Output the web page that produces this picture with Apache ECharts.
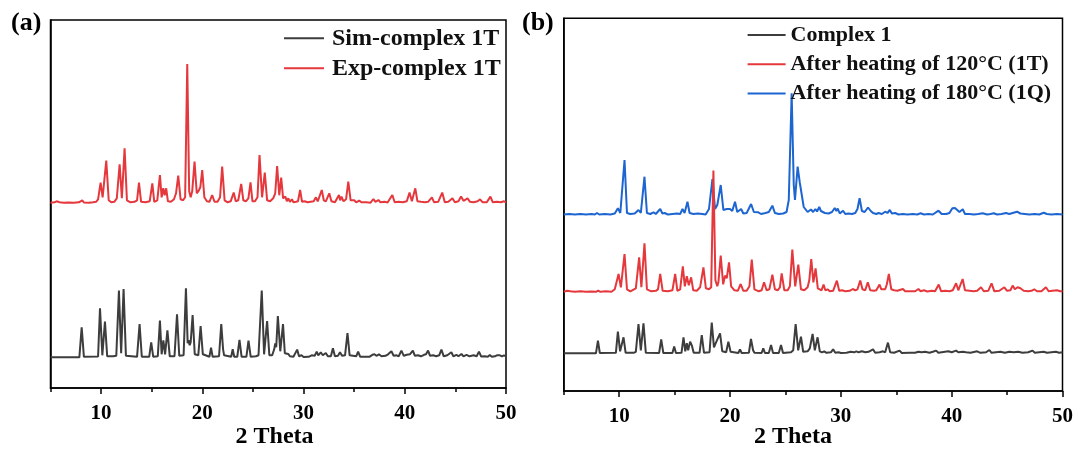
<!DOCTYPE html>
<html>
<head>
<meta charset="utf-8">
<script src="https://cdn.jsdelivr.net/npm/echarts@6/dist/echarts.min.js"></script>
<style>
  html, body { margin: 0; padding: 0; background: #ffffff; }
  #chart { width: 1076px; height: 450px; }
</style>
</head>
<body>
<div id="chart"></div>
<script>
// 2θ axis: labelled major ticks and unlabelled minor ticks (degrees)
const majorTicks = [10, 20, 30, 40, 50];
const minorTicks = [5, 15, 25, 35, 45];
const thetaRange = [5, 50];

// series names
const namesA = ['Sim-complex 1T', 'Exp-complex 1T'];
const namesB = ['Complex 1', 'After heating of 120°C (1T)', 'After heating of 180°C (1Q)'];

// PXRD traces, [2θ (deg), intensity (a.u.)]
const simComplex1T = [
  [5,0],[7.85,0],[8.08,30],[8.3,0.5],[9.7,0.8],[9.89,49],[10.12,2],[10.38,35.7],[10.6,1],
  [11.2,1],[11.35,2.5],[11.5,1.5],[11.76,66.7],[11.98,4],[12.22,68.3],[12.45,1.5],
  [13.55,0.5],[13.8,33.3],[14.02,0.5],[14.75,0.5],[14.95,15],[15.15,0.5],
  [15.6,1],[15.81,36.7],[15.98,3],[16.15,17],[16.32,3],[16.55,27],[16.78,1],
  [17.25,1],[17.5,43],[17.72,1.5],[18.15,2],[18.38,69],[18.55,14],[18.65,17],[18.75,12],[18.85,15],
  [19.04,42.3],[19.25,3],[19.6,2],[19.83,31.3],[20.05,3],[20.2,1],[20.7,0.5],[20.86,9.7],[21.02,0.5],
  [21.65,1],[21.87,33.3],[22.05,8],[22.15,2],[22.85,0.5],[23.0,8],[23.15,0.5],
  [23.45,0.5],[23.67,17.3],[23.88,0.5],[24.35,0.5],[24.56,16.7],[24.78,0.5],
  [25.3,1],[25.55,2],[25.68,4],[25.87,66.7],[26.1,3],[26.4,36.3],[26.62,2],
  [26.9,2],[27.1,8],[27.2,14],[27.3,10],[27.46,41.3],[27.7,6],[27.97,33.3],[28.15,4],[28.3,2],[28.5,3.3],[28.65,1],
  [29.0,0.5],[29.15,1.5],[29.37,7.7],[29.55,1],[29.8,2],[30.0,0.3],
  [30.5,0.5],[30.8,2],[30.95,4],[31.1,1.5],[31.3,5.7],[31.45,2],[31.7,5],[31.9,2],[32.2,4.3],[32.4,1],
  [32.7,1],[32.9,9],[33.1,1],[33.4,1.5],[33.6,5],[33.8,1.5],[34.1,2],[34.34,24.3],[34.55,2],
  [35.2,1],[35.39,5.7],[35.6,0.5],[36.5,0.5],[36.8,2.5],[37.0,3],[37.2,1.5],[37.45,3],[37.7,1],
  [38.1,1.5],[38.35,3],[38.68,6],[38.9,1.5],[39.2,2],[39.4,1],[39.67,6.7],[39.9,1.5],[40.2,2.5],[40.5,3],
  [40.8,6.7],[41.0,1.5],[41.3,2],[41.6,1],[41.9,2.5],[42.1,3],[42.3,6.7],[42.5,1.5],[42.8,2],[43.1,1],
  [43.4,2],[43.62,7.7],[43.85,1],[44.2,2],[44.6,5],[44.8,1],[45.1,2.5],[45.3,1],[45.6,3.3],[45.8,1],
  [46.1,2.5],[46.4,1],[46.8,2],[47.1,1],[47.33,5.7],[47.55,0.8],[47.9,1],[48.2,0.5],[48.4,2.3],[48.6,0.5],
  [48.9,1],[49.1,2],[49.4,2],[49.6,1],[49.8,2],[50,1]
];

const expComplex1T = [
  [5,0.5],[5.4,1],[5.6,2],[5.9,1],[6.3,0.5],[6.8,0.8],[7.3,0.5],[7.8,1],[8.14,3],[8.3,0.8],[8.8,0.5],
  [9.2,1],[9.5,1.5],[9.7,4],[9.95,20.7],[10.15,6],[10.3,8],[10.51,42.7],[10.75,3],[11.0,1],[11.3,1.5],
  [11.55,5],[11.83,39],[12.05,5],[12.32,55],[12.55,3],[12.9,1],[13.3,1.5],[13.55,3],[13.74,20.7],[13.95,1.5],
  [14.4,1],[14.8,2],[15.06,20],[15.25,1.5],[15.55,3],[15.81,28.3],[15.98,6],[16.14,15],[16.28,8],[16.43,15],
  [16.6,2],[16.9,1.5],[17.2,4],[17.4,10],[17.62,27.7],[17.85,4],[18.1,3],[18.3,6],[18.51,139.3],[18.7,12],
  [18.85,6],[19.0,12],[19.23,41.7],[19.45,10],[19.66,13],[19.8,16],[19.99,33.3],[20.2,6],[20.45,2],[20.7,1.5],
  [20.97,8.3],[21.2,1.5],[21.5,1.5],[21.75,6],[21.96,36.7],[22.2,3],[22.5,1],[22.8,2],[23.1,10.7],[23.3,2],
  [23.55,3],[23.84,19.3],[24.05,3],[24.3,2],[24.55,5],[24.76,21],[24.95,2],[25.2,2],[25.45,6],[25.65,48.3],
  [25.9,6],[26.17,30.7],[26.4,3],[26.7,2],[27.0,5],[27.2,10],[27.39,37.3],[27.6,8],[27.79,25.7],[27.98,5],
  [28.2,6.7],[28.35,2],[28.5,5],[28.65,1.5],[28.85,4],[29.0,1],[29.25,1.5],[29.45,2],[29.66,13.3],[29.85,1.5],
  [30.1,2],[30.4,1],[30.7,1.5],[31.0,2],[31.22,6],[31.4,2],[31.8,13.3],[32.0,3],[32.2,2],[32.54,10],[32.75,2],
  [33.1,1],[33.5,8.3],[33.62,3],[33.75,6.7],[33.95,2],[34.2,4],[34.42,21.7],[34.65,3],[35.0,3],[35.2,1],
  [35.5,2.7],[35.7,1],[36.2,1],[36.6,0.5],[36.9,4.3],[37.1,1.5],[37.4,3.3],[37.6,1],[38.0,1.5],[38.3,0.8],
  [38.77,8.3],[39.0,1],[39.4,1.5],[39.8,1],[40.2,2],[40.47,10.7],[40.7,2],[41.04,15],[41.25,2],[41.6,1.5],
  [42.0,1],[42.3,1.5],[42.68,6],[42.9,1],[43.3,1.5],[43.7,10.7],[43.95,1],[44.3,1.5],[44.71,5],[44.95,1],
  [45.3,2],[45.56,6.7],[45.8,2.5],[46.2,5],[46.45,1.5],[46.8,1],[47.2,2],[47.44,4],[47.7,1],[48.1,1],
  [48.46,6.7],[48.7,1],[49.1,1.5],[49.5,1],[49.8,2],[50,1]
];

const complex1 = [
  [5,0],[7.9,0],[8.08,12.7],[8.25,0.3],[9.7,0.5],[9.88,21.7],[10.08,2],[10.39,16],[10.58,0.5],
  [11.3,0.5],[11.5,1.5],[11.74,29.3],[11.95,3],[12.19,30],[12.4,0.5],[13.6,0.3],[13.79,14],[13.98,0.3],
  [14.8,0.3],[14.96,6.7],[15.12,0.3],[15.62,0.5],[15.8,16],[15.96,2],[16.1,10],[16.22,3],[16.4,11.7],
  [16.55,8],[16.72,0.5],[17.25,0.5],[17.45,18.3],[17.65,0.5],[18.15,1],[18.35,30.7],[18.55,6],[18.7,10],
  [18.8,8],[19.1,20],[19.3,2],[19.65,1],[19.85,11.7],[20.05,1.5],[20.2,0.5],[20.75,0.3],[20.9,4],[21.05,0.3],
  [21.7,0.5],[21.89,14.3],[22.08,3],[22.2,0.5],[22.85,0.3],[23.0,5],[23.15,0.3],[23.5,0.3],[23.7,8.3],[23.88,0.3],
  [24.4,0.3],[24.6,8.3],[24.78,0.3],[25.5,1],[25.7,3],[25.92,29.3],[26.15,3],[26.4,16.7],[26.6,1.5],
  [27.0,2],[27.2,5],[27.45,19.3],[27.65,3],[27.9,16],[28.1,2],[28.3,1],[28.5,2],[28.7,0.5],[29.1,1],[29.3,4],
  [29.5,0.5],[29.8,1],[30.0,0.3],[30.5,0.5],[30.9,1.5],[31.2,1],[31.4,2],[31.6,1],[31.9,2],[32.2,1],[32.5,1.5],
  [32.9,4],[33.1,0.5],[33.5,1],[33.8,2],[34.0,1],[34.25,10.7],[34.45,1],[34.8,0.5],[35.3,2.7],[35.5,0.3],
  [36.2,0.5],[36.7,0.5],[37.0,1.5],[37.3,1],[37.6,1.5],[38.0,0.5],[38.3,1.5],[38.6,2.7],[38.8,0.5],[39.1,1],
  [39.4,1.5],[39.7,2],[40.0,1],[40.4,2.7],[40.6,1],[41.0,1.5],[41.3,1],[41.7,0.5],[42.1,1.5],[42.3,2],[42.6,0.5],
  [43.1,1],[43.4,3.3],[43.6,0.5],[44.0,1],[44.4,1.5],[44.8,0.5],[45.2,1.5],[45.6,1],[46.0,1.5],[46.4,0.5],
  [46.9,1],[47.3,2.7],[47.5,0.5],[47.9,1],[48.3,1.5],[48.6,0.5],[49.0,1],[49.4,1.5],[49.7,0.5],[50,1]
];

const heated120 = [
  [5,0.5],[5.3,1.5],[5.6,1],[6.0,0.5],[6.5,1],[7.0,0.5],[7.5,0.8],[7.9,0.5],[8.1,1.7],[8.3,0.5],[8.8,1],
  [9.3,0.5],[9.6,3],[9.94,18.3],[10.15,5],[10.48,38.3],[10.7,3],[11.0,1],[11.5,4],[11.8,35],[12.0,5],
  [12.28,49],[12.5,3],[12.9,1],[13.3,1.5],[13.5,3],[13.7,18.3],[13.92,1.5],[14.4,1],[14.8,2],[15.05,18.3],
  [15.25,1.5],[15.5,3],[15.74,26],[15.92,6],[16.1,16],[16.28,7],[16.49,15],[16.68,2],[17.0,1.5],[17.3,5],
  [17.6,25],[17.82,4],[18.1,3],[18.3,5],[18.5,121.7],[18.68,12],[18.85,6],[18.95,10],[19.16,36.7],[19.38,8],
  [19.55,16.7],[19.7,14],[19.91,30],[20.1,6],[20.4,2],[20.7,1.5],[20.96,8.3],[21.2,1.5],[21.5,1.5],[21.75,6],
  [21.96,32.7],[22.2,3],[22.6,1],[22.85,2],[23.07,10],[23.3,2],[23.55,3],[23.82,17.7],[24.05,3],[24.3,2],
  [24.5,5],[24.66,19],[24.9,2],[25.2,2],[25.4,6],[25.62,42.7],[25.88,6],[26.16,27.7],[26.4,3],[26.7,2],
  [27.0,5],[27.15,12],[27.33,33.3],[27.52,10],[27.72,24],[27.92,4],[28.08,5],[28.25,2],[28.44,7.7],[28.6,2],
  [28.8,3],[29.0,1],[29.3,1.5],[29.45,2],[29.64,11.7],[29.85,1.5],[30.1,2],[30.4,1],[30.8,1.5],[31.08,3.3],
  [31.3,2],[31.5,3],[31.75,11.7],[31.95,3],[32.2,2],[32.43,10],[32.65,2],[33.0,1.5],[33.2,2],[33.49,7.7],
  [33.65,3],[33.8,4],[34.0,3],[34.15,8],[34.33,18.3],[34.55,3],[34.8,2],[35.1,1.5],[35.6,3.3],[35.8,1],
  [36.3,1],[36.7,1],[37.0,3.3],[37.2,1],[37.5,2],[37.8,0.8],[38.2,1.5],[38.5,1],[38.83,7.7],[39.05,1],
  [39.4,1.5],[39.8,1],[40.1,2],[40.4,9],[40.6,2],[40.99,13.3],[41.2,2],[41.6,1.5],[42.0,1],[42.3,1.5],
  [42.65,5],[42.9,1],[43.3,1.5],[43.6,9],[43.85,1],[44.3,1.5],[44.75,5],[45.0,1.5],[45.3,2],[45.5,6.7],
  [45.7,3],[45.95,5],[46.2,4],[46.5,1.5],[46.9,1],[47.2,1.5],[47.45,3],[47.7,1],[48.1,1],[48.5,5],[48.75,1],
  [49.1,1.5],[49.5,2],[49.8,1],[50,1]
];

const heated180 = [
  [5,0.5],[5.5,1],[6,0.5],[6.5,1],[7,0.5],[7.5,1],[7.8,0.5],[7.99,2],[8.2,0.5],[8.7,1],[9.2,0.5],[9.6,1.5],
  [9.88,6.7],[10.1,2],[10.48,55],[10.7,2],[11.0,1],[11.4,1.5],[11.74,5],[11.95,2],[12.28,38.3],[12.5,2],
  [12.8,1],[13.1,2.7],[13.3,1],[13.7,6],[13.9,1.5],[14.1,2],[14.4,0.5],[14.8,1],[15.2,1.5],[15.5,1],
  [15.71,6],[15.9,2],[16.16,13.3],[16.35,2],[16.5,3],[16.7,1],[17.1,1.5],[17.5,1],[17.8,0.5],[18.1,6],
  [18.41,36],[18.65,6],[18.85,10],[19.16,30],[19.4,5],[19.7,6],[19.85,4],[20.0,6],[20.2,4],[20.45,13.3],
  [20.65,3],[21.0,6],[21.2,1.5],[21.5,2],[21.9,11],[22.15,3],[22.55,2.7],[22.8,1],[23.2,2],[23.5,3],
  [23.82,9.3],[24.05,2],[24.4,1],[24.8,1.5],[25.1,3],[25.3,15],[25.56,121.7],[25.75,30],[25.86,15],
  [26.1,48.3],[26.3,32],[26.45,30],[26.65,8],[27.0,3],[27.3,5.5],[27.5,3],[27.7,6],[27.85,3.5],[28.05,8],
  [28.2,4],[28.35,6],[28.55,2],[28.9,1.5],[29.2,3],[29.45,7],[29.6,4],[29.72,6.5],[29.9,1.5],[30.2,4.3],
  [30.4,1],[30.7,1.5],[31.0,1],[31.3,2],[31.5,6],[31.69,16.7],[31.9,4],[32.15,3],[32.45,7.5],[32.7,4],
  [32.9,2],[33.2,1],[33.4,2],[33.7,1],[34.0,3.3],[34.2,2],[34.42,5],[34.6,1.5],[34.9,2],[35.2,0.5],[35.6,1],
  [36.0,0.5],[36.5,1],[36.9,0.5],[37.2,1.7],[37.5,0.5],[37.9,1],[38.3,0.5],[38.81,4.3],[39.1,1],[39.5,1],
  [39.8,2],[40.06,6.7],[40.3,7],[40.45,9],[40.7,3],[41.0,5.7],[41.2,1],[41.6,1],[42.0,0.5],[42.4,1],[42.8,1.7],
  [43.2,0.5],[43.5,1],[43.8,1.7],[44.1,0.5],[44.5,1],[44.9,2],[45.2,1],[45.5,2],[45.9,3.3],[46.2,1.5],
  [46.6,1],[47.0,0.5],[47.5,1],[47.9,0.5],[48.3,2.3],[48.6,1],[49.0,0.5],[49.5,1],[50,0.5]
];

// vertical stacking of the patterns inside each panel
const stackA = { sim: 30.7, exp: 184.7, top: 368 };
const stackB = { complex: 37.7, t120: 98.7, t180: 176, top: 372.7 };

const FONT = '"Liberation Serif", "Times New Roman", serif';
const COLORS = { gray: '#3d3d3d', red: '#e5383d', blue: '#1d65d0' };

const shift = (data, dy) => data.map(([x, y]) => [x, y + dy]);

function xAxisPair(gridIndex) {
  return [
    {
      type: 'value', gridIndex, min: thetaRange[0], max: thetaRange[1],
      axisLine: { show: true, onZero: false, lineStyle: { color: '#000', width: 1.5 } },
      axisTick: { show: true, customValues: majorTicks, length: 6, inside: false, lineStyle: { color: '#000', width: 1.5 } },
      axisLabel: { show: true, customValues: majorTicks, margin: 15, color: '#000',
                   fontFamily: FONT, fontWeight: 'bold', fontSize: 21 },
      splitLine: { show: false }
    },
    {
      type: 'value', gridIndex, min: thetaRange[0], max: thetaRange[1], position: 'bottom',
      axisLine: { show: false, onZero: false },
      axisTick: { show: true, customValues: minorTicks, length: 4, lineStyle: { color: '#000', width: 1.5 } },
      axisLabel: { show: false },
      splitLine: { show: false }
    }
  ];
}

function yAxis(gridIndex, top) {
  return {
    type: 'value', gridIndex, min: 0, max: top,
    axisLine: { show: true, lineStyle: { color: '#000', width: 1.5 } },
    axisTick: { show: false }, axisLabel: { show: false }, splitLine: { show: false }
  };
}

function trace(name, data, color, xAxisIndex, yAxisIndex) {
  return {
    name, type: 'line', data, xAxisIndex, yAxisIndex,
    symbol: 'none', smooth: false, animation: false,
    lineStyle: { color, width: 2 }, itemStyle: { color }
  };
}

const chart = echarts.init(document.getElementById('chart'), null, { renderer: 'canvas' });

chart.setOption({
  backgroundColor: '#ffffff',
  animation: false,
  grid: [
    { left: 50.5, top: 20, width: 455.5, height: 368, show: true, borderColor: '#000', borderWidth: 1.5, backgroundColor: 'transparent' },
    { left: 563.8, top: 18.3, width: 499.6, height: 372.7, show: true, borderColor: '#000', borderWidth: 1.5, backgroundColor: 'transparent' }
  ],
  xAxis: [...xAxisPair(0), ...xAxisPair(1)],
  yAxis: [yAxis(0, stackA.top), yAxis(1, stackB.top)],
  legend: [
    {
      data: namesA, orient: 'vertical', left: 284, top: 23.3, padding: 0, itemGap: 0,
      icon: 'rect', itemWidth: 40, itemHeight: 2,
      textStyle: { fontFamily: FONT, fontWeight: 'bold', fontSize: 24, color: '#111', lineHeight: 30, padding: [0, 0, 0, 3] }
    },
    {
      data: namesB, orient: 'vertical', left: 747.6, top: 20.5, padding: 0, itemGap: 0,
      icon: 'rect', itemWidth: 38, itemHeight: 2,
      textStyle: { fontFamily: FONT, fontWeight: 'bold', fontSize: 22, color: '#111', lineHeight: 29.2 }
    }
  ],
  graphic: [
    { type: 'text', left: 11, top: 10, style: { text: '(a)', font: 'bold 26px ' + FONT, fill: '#000' } },
    { type: 'text', left: 522, top: 10, style: { text: '(b)', font: 'bold 26px ' + FONT, fill: '#000' } },
    { type: 'text', x: 274.6, y: 437, style: { text: '2 Theta', font: 'bold 24px ' + FONT, fill: '#000', align: 'center', verticalAlign: 'middle' } },
    { type: 'text', x: 793, y: 437, style: { text: '2 Theta', font: 'bold 24px ' + FONT, fill: '#000', align: 'center', verticalAlign: 'middle' } }
  ],
  series: [
    trace(namesA[0], shift(simComplex1T, stackA.sim), COLORS.gray, 0, 0),
    trace(namesA[1], shift(expComplex1T, stackA.exp), COLORS.red, 0, 0),
    trace(namesB[2], shift(heated180, stackB.t180), COLORS.blue, 2, 1),
    trace(namesB[1], shift(heated120, stackB.t120), COLORS.red, 2, 1),
    trace(namesB[0], shift(complex1, stackB.complex), COLORS.gray, 2, 1)
  ]
});
</script>
</body>
</html>
